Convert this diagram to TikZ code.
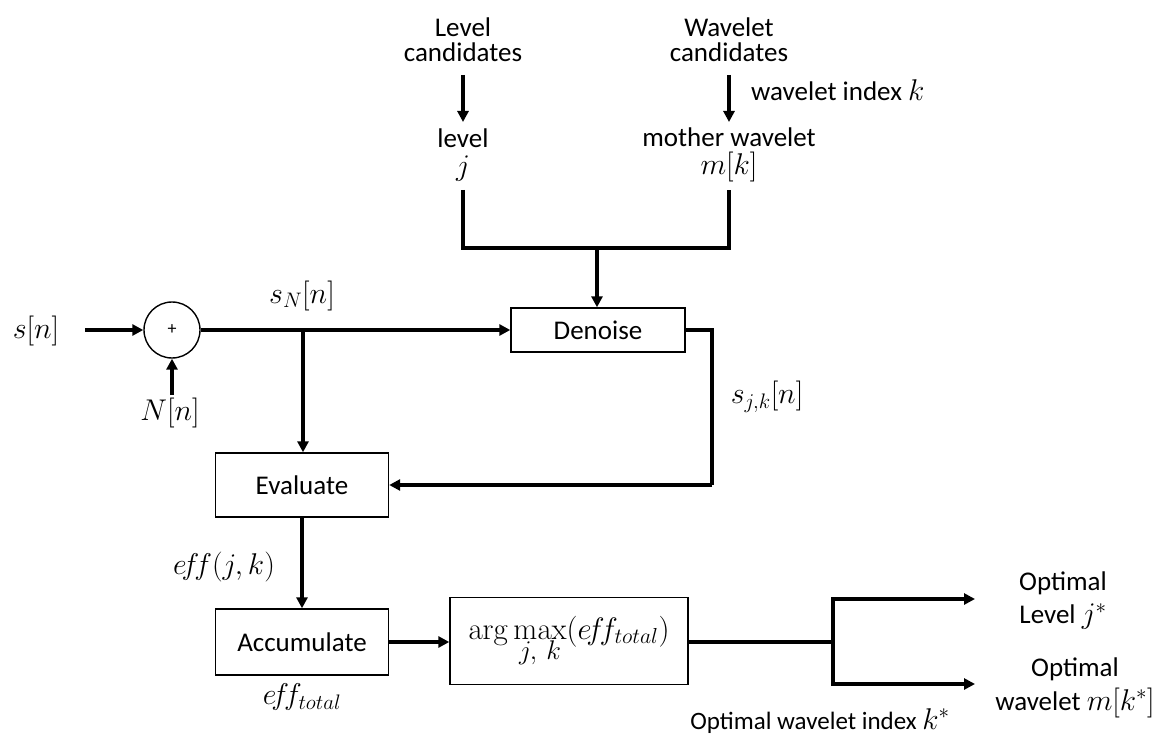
\RequirePackage{fix-cm}
\documentclass[tikz,border=0pt]{standalone}
\usepackage[no-math]{fontspec}
\setmainfont{Carlito}
\usetikzlibrary{arrows.meta}
\newcommand{\mymath}[1]{{\fontsize{30}{30}\selectfont$#1$}}
\begin{document}
\begin{tikzpicture}[x=1pt,y=-1pt,
  every node/.style={font=\fontsize{27}{25}\selectfont},
  blk/.style={draw,line width=1.4pt,minimum width=173pt,minimum height=64pt,inner sep=0pt},
  wire/.style={line width=3.2pt},
  arr/.style={wire,-{Triangle[length=11pt,width=11pt]}},
  lbl/.style={inner sep=1pt,align=center},
  mth/.style={lbl,font=\fontsize{30}{30}\selectfont}]
\useasboundingbox (0,0) rectangle (1156,735);
% nodes
\node[mth] (sn) at (36,331) {$s[n]$};
\node[draw,circle,line width=1.4pt,minimum size=56pt,inner sep=0pt] (sum) at (172,330) {\fontsize{18}{20}\selectfont +};
\node[mth] (Nn) at (170,413) {$N[n]$};
\node[blk,minimum width=174pt,minimum height=44pt] (den) at (598,330) {Denoise};
\node[blk] (eva) at (302,485) {Evaluate};
\node[blk,minimum height=66pt] (acc) at (302,642) {Accumulate};
\node[blk,minimum width=238pt,minimum height=87pt,font=\fontsize{31}{31}\selectfont] (amx) at (569,641) {$\mathrm{arg}\mathop{\mathrm{max}}\limits_{\hbox{\fontsize{27}{27}\selectfont$j,\,k$}}(e\!f\!f_{total})$};
\node[lbl] (lc) at (463,40) {Level\\candidates};
\node[lbl] (wc) at (729,40) {Wavelet\\candidates};
\node[lbl,font=\fontsize{27}{28}\selectfont] (lv) at (463,155) {level\\\mymath{j}};
\node[lbl,anchor=west] (wi) at (750,90) {wavelet index \mymath{k}};
\node[lbl,font=\fontsize{27}{28}\selectfont] (mw) at (729,155) {mother wavelet\\\mymath{m[k]}};
\node[mth] (sNl) at (302,296) {$s_N[n]$};
\node[mth] (sjk) at (767,397) {$s_{j,k}[n]$};
\node[mth] (effjk) at (224,567) {$e\!f\!f(j,k)$};
\node[mth] (efft) at (302,697) {$e\!f\!f_{total}$};
\node[lbl,font=\fontsize{27}{33}\selectfont] (ol) at (1063,601) {Optimal\\Level \mymath{j^*}};
\node[lbl,font=\fontsize{27}{34}\selectfont] (ow) at (1075,688) {Optimal\\wavelet \mymath{m[k^*]}};
\node[lbl,font=\fontsize{25}{28}\selectfont] (owi) at (820,721) {Optimal wavelet index \mymath{k^*}};
% coordinates
\coordinate (a0) at (85,330);
\coordinate (n0) at (172,395);
\coordinate (br) at (303,330);
\coordinate (lt) at (463,75);
\coordinate (lh) at (463,122);
\coordinate (wt) at (729,75);
\coordinate (wh) at (729,122);
\coordinate (lb) at (463,190);
\coordinate (mb) at (729,190);
\coordinate (jn) at (597,248);
\coordinate (rt) at (712,330);
\coordinate (rb) at (712,485);
\coordinate (sp) at (833,642);
\coordinate (o1) at (975,599);
\coordinate (o2) at (975,684);
% connectors
\draw[arr] (a0) -- (sum.west);
\draw[arr] (n0) -- (sum.south);
\draw[arr] (sum.east) -- (den.west);
\draw[arr] (br) -- (eva.north -| br);
\draw[arr] (lt) -- (lh);
\draw[arr] (wt) -- (wh);
\draw[wire] (lb) |- (jn) -| (mb);
\draw[arr] (jn) -- (den.north -| jn);
\draw[wire] (den.east) -- (rt) -- (rb);
\draw[arr] (rb) -- (eva.east);
\draw[arr] (eva.south) -- (acc.north);
\draw[arr] (acc.east) -- (amx.west |- acc.east);
\draw[wire] (amx.east |- sp) -- (sp);
\draw[arr] (sp) |- (o1);
\draw[arr] (sp) |- (o2);
\end{tikzpicture}
\end{document}
